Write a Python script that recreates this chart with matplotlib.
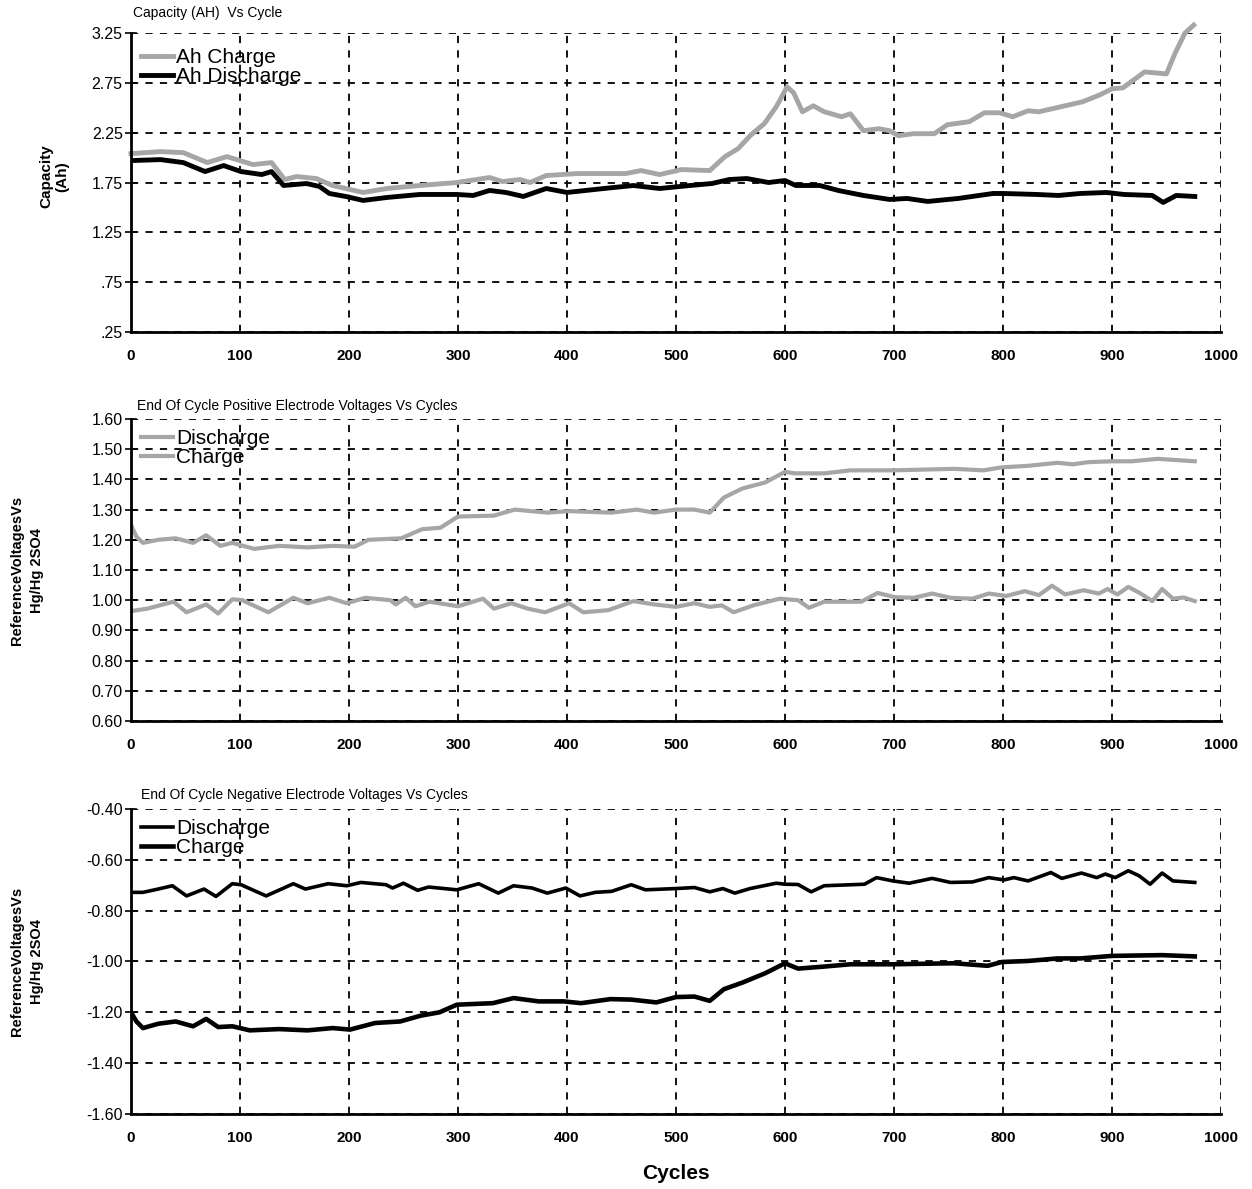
import matplotlib
matplotlib.use("Agg")
import matplotlib.pyplot as plt
from matplotlib.ticker import FixedLocator, FixedFormatter

# ---------------- data ----------------
cap_charge_x = [0, 27, 48, 70, 88, 112, 129, 141, 152, 170, 185, 213, 235, 265, 299, 329, 341, 357, 366, 381,
                410, 454, 468, 485, 505, 531, 545, 557, 569, 581, 592, 602, 608, 616, 626, 636, 652, 660, 672,
                686, 696, 704, 718, 737, 749, 769, 783, 797, 809, 823, 833, 853, 873, 889, 900, 910, 930, 950,
                958, 967, 975]
cap_charge_y = [2.04, 2.06, 2.05, 1.95, 2.01, 1.93, 1.95, 1.78, 1.81, 1.79, 1.72, 1.65, 1.69, 1.72, 1.75, 1.80,
                1.76, 1.78, 1.75, 1.82, 1.84, 1.84, 1.87, 1.83, 1.88, 1.87, 2.01, 2.09, 2.23, 2.34, 2.51, 2.71,
                2.65, 2.46, 2.52, 2.46, 2.41, 2.44, 2.27, 2.29, 2.27, 2.22, 2.24, 2.24, 2.33, 2.36, 2.45, 2.45,
                2.41, 2.47, 2.46, 2.51, 2.56, 2.63, 2.69, 2.70, 2.86, 2.84, 3.05, 3.25, 3.33]

cap_dis_x = [0, 27, 48, 68, 85, 101, 120, 129, 140, 161, 173, 182, 197, 213, 235, 265, 299, 314, 329, 344, 360,
             381, 400, 434, 461, 485, 513, 533, 549, 565, 585, 600, 610, 632, 649, 672, 696, 712, 731, 759, 791,
             800, 831, 851, 871, 895, 911, 937, 947, 959, 976]
cap_dis_y = [1.97, 1.98, 1.95, 1.86, 1.92, 1.86, 1.83, 1.86, 1.72, 1.74, 1.71, 1.64, 1.61, 1.57, 1.60, 1.63,
             1.63, 1.62, 1.67, 1.65, 1.61, 1.69, 1.65, 1.69, 1.72, 1.69, 1.72, 1.74, 1.78, 1.79, 1.75, 1.77,
             1.72, 1.72, 1.67, 1.62, 1.58, 1.59, 1.56, 1.59, 1.64, 1.64, 1.63, 1.62, 1.64, 1.65, 1.63, 1.62,
             1.55, 1.62, 1.61]

pos_charge_x = [0, 5, 11, 25, 41, 57, 69, 82, 93, 113, 136, 162, 185, 205, 218, 248, 267, 284, 300, 333, 352,
                382, 402, 441, 464, 480, 500, 517, 531, 544, 561, 582, 600, 609, 636, 660, 700, 755, 782, 799,
                823, 850, 864, 878, 900, 918, 942, 976]
pos_charge_y = [1.25, 1.21, 1.19, 1.20, 1.205, 1.19, 1.215, 1.18, 1.19, 1.17, 1.18, 1.175, 1.18, 1.177, 1.20,
                1.205, 1.235, 1.24, 1.277, 1.28, 1.30, 1.29, 1.295, 1.29, 1.30, 1.29, 1.30, 1.30, 1.29, 1.34,
                1.37, 1.39, 1.425, 1.42, 1.42, 1.43, 1.43, 1.435, 1.43, 1.44, 1.445, 1.455, 1.45, 1.457, 1.46,
                1.46, 1.468, 1.46]

pos_dis_x = [0, 15, 39, 51, 69, 80, 93, 102, 126, 149, 162, 182, 198, 215, 238, 243, 252, 261, 274, 300, 323,
             333, 349, 364, 380, 402, 415, 438, 461, 480, 500, 517, 531, 542, 553, 571, 595, 612, 622, 636, 670,
             685, 701, 718, 735, 752, 772, 787, 803, 820, 833, 845, 857, 874, 888, 896, 905, 915, 925, 937, 946,
             956, 966, 976]
pos_dis_y = [0.964, 0.972, 0.995, 0.96, 0.986, 0.956, 1.003, 1.0, 0.96, 1.008, 0.99, 1.008, 0.99, 1.008, 1.0,
             0.986, 1.008, 0.98, 0.995, 0.98, 1.005, 0.972, 0.99, 0.972, 0.96, 0.99, 0.96, 0.967, 0.997, 0.986,
             0.978, 0.99, 0.978, 0.983, 0.96, 0.983, 1.005, 1.0, 0.975, 0.995, 0.995, 1.024, 1.01, 1.008, 1.022,
             1.008, 1.005, 1.022, 1.014, 1.03, 1.017, 1.048, 1.019, 1.033, 1.022, 1.037, 1.019, 1.044, 1.025,
             0.997, 1.037, 1.005, 1.009, 0.997]

neg_dis_x = [0, 11, 25, 38, 51, 67, 78, 93, 101, 124, 149, 160, 181, 198, 211, 234, 240, 250, 263, 273, 299,
             319, 337, 351, 368, 382, 399, 412, 426, 441, 459, 472, 500, 517, 531, 543, 554, 568, 592, 600, 612,
             624, 636, 673, 684, 699, 714, 735, 752, 772, 787, 801, 810, 823, 844, 854, 872, 886, 894, 903, 915,
             925, 935, 946, 956, 976]
neg_dis_y = [-0.728, -0.728, -0.715, -0.702, -0.742, -0.715, -0.744, -0.694, -0.698, -0.742, -0.694, -0.715,
             -0.694, -0.702, -0.689, -0.698, -0.711, -0.692, -0.72, -0.707, -0.718, -0.694, -0.731, -0.702,
             -0.711, -0.731, -0.711, -0.742, -0.728, -0.724, -0.698, -0.718, -0.713, -0.709, -0.726, -0.713,
             -0.731, -0.713, -0.692, -0.696, -0.697, -0.726, -0.702, -0.696, -0.67, -0.683, -0.692, -0.673,
             -0.689, -0.687, -0.67, -0.679, -0.67, -0.683, -0.65, -0.673, -0.652, -0.67, -0.656, -0.67, -0.643,
             -0.663, -0.696, -0.652, -0.683, -0.689]

neg_charge_x = [0, 5, 11, 25, 41, 57, 69, 80, 93, 109, 136, 162, 185, 201, 224, 247, 266, 283, 299, 332, 351,
                374, 397, 413, 440, 459, 482, 500, 517, 531, 544, 561, 582, 600, 612, 636, 660, 699, 755, 786,
                799, 823, 850, 871, 900, 946, 976]
neg_charge_y = [-1.20, -1.236, -1.262, -1.245, -1.236, -1.255, -1.226, -1.258, -1.255, -1.271, -1.266, -1.271,
                -1.262, -1.268, -1.242, -1.236, -1.213, -1.20, -1.17, -1.164, -1.144, -1.157, -1.157, -1.164,
                -1.148, -1.15, -1.161, -1.14, -1.138, -1.155, -1.109, -1.083, -1.046, -1.007, -1.028, -1.02,
                -1.011, -1.011, -1.007, -1.017, -1.002, -0.998, -0.988, -0.988, -0.978, -0.975, -0.98]

x_ticks = [0, 100, 200, 300, 400, 500, 600, 700, 800, 900, 1000]
cap_ticks = [0.25, 0.75, 1.25, 1.75, 2.25, 2.75, 3.25]
cap_tick_labels = [".25", ".75", "1.25", "1.75", "2.25", "2.75", "3.25"]
pos_ticks = [0.60, 0.70, 0.80, 0.90, 1.00, 1.10, 1.20, 1.30, 1.40, 1.50, 1.60]
neg_ticks = [-1.60, -1.40, -1.20, -1.00, -0.80, -0.60, -0.40]

titles = ["Capacity (AH)  Vs Cycle",
          "End Of Cycle Positive Electrode Voltages Vs Cycles",
          "End Of Cycle Negative Electrode Voltages Vs Cycles"]

GRAY = "#a6a6a6"
plt.rcParams['font.family'] = ['Liberation Sans', 'DejaVu Sans']

fig = plt.figure(figsize=(12.52, 11.89), dpi=100)
rects = [[0.1046, 0.7208, 0.8706, 0.2514],
         [0.1046, 0.3936, 0.8706, 0.2540],
         [0.1046, 0.0631, 0.8706, 0.2565]]
axes = [fig.add_axes(r) for r in rects]

def style(ax, yticks, ylabels, ylim):
    ax.set_xlim(0, 1000)
    ax.set_ylim(*ylim)
    for s in ['top', 'right']:
        ax.spines[s].set_visible(False)
    for s in ['left', 'bottom']:
        ax.spines[s].set_linewidth(2.0)
    ax.yaxis.set_major_locator(FixedLocator(yticks))
    ax.yaxis.set_major_formatter(FixedFormatter(ylabels))
    ax.xaxis.set_major_locator(FixedLocator(x_ticks))
    ax.tick_params(axis='y', direction='inout', length=8, width=1.2, labelsize=11.5, pad=2)
    ax.tick_params(axis='x', length=0, labelsize=11, pad=12)
    for lab in ax.get_xticklabels():
        lab.set_fontweight('bold')
    ax.grid(True, color='black', linestyle=(0, (4, 4)), linewidth=1.3)
    ax.set_axisbelow(True)

# Panel 1
ax = axes[0]
ax.plot(cap_charge_x, cap_charge_y, color=GRAY, lw=3.5, label="Ah Charge",
        solid_joinstyle='round', clip_on=False)
ax.plot(cap_dis_x, cap_dis_y, color='black', lw=3.5, label="Ah Discharge", solid_joinstyle='round')
style(ax, cap_ticks, cap_tick_labels, (0.25, 3.25))
ax.set_ylabel("Capacity\n(Ah)", fontsize=11, fontweight='bold', linespacing=1.1)
ax.yaxis.set_label_coords(-0.057, 0.52)

# Panel 2
ax = axes[1]
ax.plot(pos_dis_x, pos_dis_y, color=GRAY, lw=3.0, label="Discharge", solid_joinstyle='round')
ax.plot(pos_charge_x, pos_charge_y, color=GRAY, lw=3.0, label="Charge", solid_joinstyle='round')
style(ax, pos_ticks, ["%.2f" % v for v in pos_ticks], (0.60, 1.60))
ax.set_ylabel("ReferenceVoltagesVs\nHg/Hg 2SO4", fontsize=10.5, fontweight='bold', linespacing=1.5)
ax.yaxis.set_label_coords(-0.080, 0.5)

# Panel 3
ax = axes[2]
ax.plot(neg_dis_x, neg_dis_y, color='black', lw=2.6, label="Discharge", solid_joinstyle='round')
ax.plot(neg_charge_x, neg_charge_y, color='black', lw=3.3, label="Charge", solid_joinstyle='round')
style(ax, neg_ticks, ["%.2f" % v for v in neg_ticks], (-1.60, -0.40))
ax.set_ylabel("ReferenceVoltagesVs\nHg/Hg 2SO4", fontsize=10.5, fontweight='bold', linespacing=1.5)
ax.yaxis.set_label_coords(-0.080, 0.5)
ax.set_xlabel("Cycles", fontsize=15, fontweight='bold', labelpad=14)

# legends
legend_anchor = [(0.0, 0.985), (0.0, 1.0), (0.0, 1.0)]
for ax, anc in zip(axes, legend_anchor):
    ax.legend(loc='upper left', bbox_to_anchor=anc, frameon=False, fontsize=15,
              handlelength=1.5, handletextpad=0.15, labelspacing=0.0, borderaxespad=0.3,
              borderpad=0.2)

# titles
title_y = [13, 406, 795]
title_x = [133, 137, 141]
for t, tx, ty in zip(titles, title_x, title_y):
    fig.text(tx / 1252, 1 - ty / 1189, t, fontsize=10, ha='left', va='center')

fig.savefig("out.png", dpi=100)
